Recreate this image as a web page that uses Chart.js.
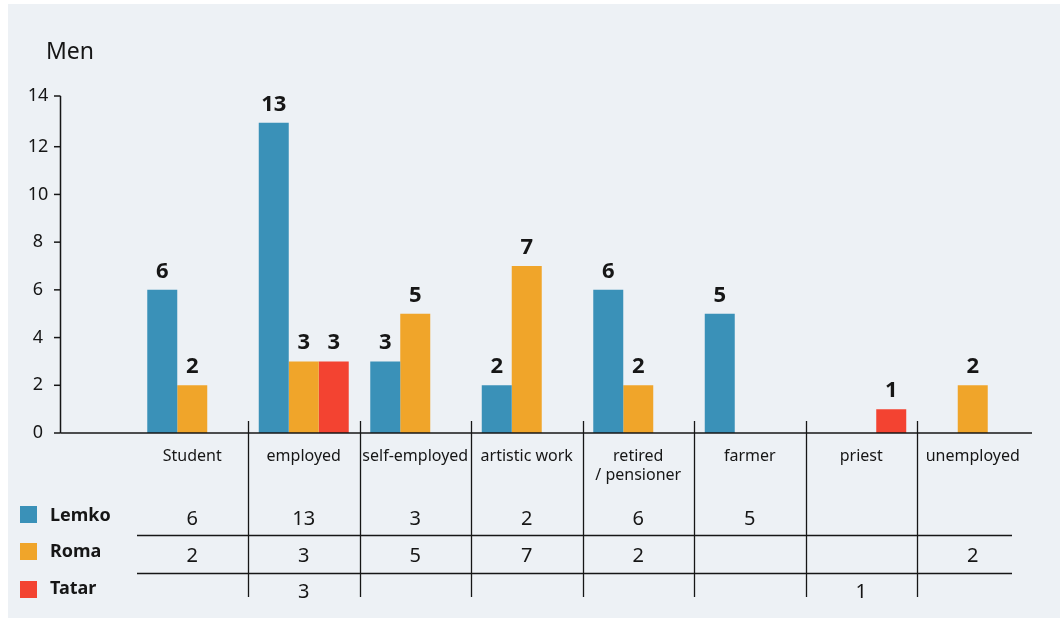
<!DOCTYPE html>
<html>
<head>
<meta charset="utf-8">
<script src="https://cdn.jsdelivr.net/npm/chart.js@4.4.1/dist/chart.umd.min.js"></script>
<style>
  html, body { margin: 0; padding: 0; background: #ffffff; }
  canvas { display: block; }
</style>
</head>
<body>
<canvas id="menChart" width="1060" height="618"></canvas>
<script>
// occupations (x categories) and counts per group
const categories = ['Student', 'employed', 'self-employed', 'artistic work', ['retired', '/ pensioner'], 'farmer', 'priest', 'unemployed'];
const lemkoValues = [6, 13, 3, 2, 6, 5, null, null];
const romaValues = [2, 3, 5, 7, 2, null, null, 2];
const tatarValues = [null, 3, null, null, null, null, 1, null];
const groupNames = ['Lemko', 'Roma', 'Tatar'];
const groupColors = ['#3a91b8', '#f0a52a', '#f34331'];
const yTicks = [0, 2, 4, 6, 8, 10, 12, 14];
const chartTitle = 'Men';

const FONT = '"Noto Sans", sans-serif';
const INK = '#161616';

// Everything that isn't a bar: panel, axes, value labels, the table under the chart
const decorPlugin = {
    id: 'decor',
    beforeDraw(chart) {
        const c = chart.ctx;
        c.save();
        c.fillStyle = '#edf1f5';
        c.fillRect(8, 4, 1052, 614);
        c.restore();
    },
    afterDraw(chart) {
        const c = chart.ctx;
        const xScale = chart.scales.x;
        const yScale = chart.scales.y;
        const y0 = yScale.getPixelForValue(0);
        const axisX = 60.5;

        c.save();
        c.strokeStyle = INK;
        c.fillStyle = INK;

        // title
        c.font = '23px ' + FONT;
        c.textAlign = 'left';
        c.textBaseline = 'alphabetic';
        c.fillText(chartTitle, 46, 59);

        // y axis with ticks
        c.lineWidth = 1.5;
        c.beginPath();
        c.moveTo(axisX, 96);
        c.lineTo(axisX, y0);
        c.stroke();
        c.font = '18px ' + FONT;
        c.textAlign = 'center';
        c.textBaseline = 'middle';
        yTicks.forEach(function (t) {
            const py = Math.max(96, yScale.getPixelForValue(t) - (t === 14 ? 3 : 0));
            c.beginPath();
            c.moveTo(54, py);
            c.lineTo(axisX, py);
            c.stroke();
            c.fillText(String(t), 38, py);
        });

        // x axis line
        c.beginPath();
        c.moveTo(axisX, y0);
        c.lineTo(1032, y0);
        c.stroke();

        // value labels above bars
        c.font = 'bold 22px ' + FONT;
        c.textAlign = 'center';
        c.textBaseline = 'alphabetic';
        chart.data.datasets.forEach(function (ds, di) {
            const meta = chart.getDatasetMeta(di);
            meta.data.forEach(function (bar, i) {
                const v = ds.data[i];
                if (v === null || v === undefined) return;
                c.fillText(String(v), bar.x, bar.y - 12);
            });
        });

        // category labels
        c.font = '16px ' + FONT;
        categories.forEach(function (label, i) {
            const px = xScale.getPixelForValue(i);
            const lines = Array.isArray(label) ? label : [label];
            lines.forEach(function (line, li) {
                c.fillText(line, px, 461 + li * 19);
            });
        });

        // table grid
        const step = xScale.getPixelForValue(1) - xScale.getPixelForValue(0);
        c.lineWidth = 1.3;
        for (let i = 1; i < categories.length; i++) {
            const px = Math.round(xScale.getPixelForValue(i) - step / 2) + 0.5;
            c.beginPath();
            c.moveTo(px, 421);
            c.lineTo(px, 597);
            c.stroke();
        }
        [535.5, 573.5].forEach(function (py) {
            c.beginPath();
            c.moveTo(137, py);
            c.lineTo(1012, py);
            c.stroke();
        });

        // legend column and table values
        const rowBaselines = [525, 562, 598];
        const legendBaselines = [521, 557, 594];
        const squareTops = [506, 543, 581];
        chart.data.datasets.forEach(function (ds, di) {
            c.fillStyle = groupColors[di];
            c.fillRect(20, squareTops[di], 17, 17);
            c.fillStyle = INK;
            c.font = 'bold 18px ' + FONT;
            c.textAlign = 'left';
            c.fillText(ds.label, 50, legendBaselines[di]);
            c.font = '20px ' + FONT;
            c.textAlign = 'center';
            ds.data.forEach(function (v, i) {
                if (v === null || v === undefined) return;
                c.fillText(String(v), xScale.getPixelForValue(i), rowBaselines[di]);
            });
        });
        c.restore();
    }
};

const seriesValues = [lemkoValues, romaValues, tatarValues];

new Chart(document.getElementById('menChart'), {
    type: 'bar',
    data: {
        labels: categories,
        datasets: seriesValues.map(function (vals, i) {
            return {
                label: groupNames[i],
                data: vals,
                backgroundColor: groupColors[i],
                borderWidth: 0,
                barPercentage: 1,
                categoryPercentage: 0.807
            };
        })
    },
    options: {
        responsive: false,
        animation: false,
        devicePixelRatio: 1,
        layout: {
            padding: { left: 136.5, right: 31.5, top: 99, bottom: 185 }
        },
        scales: {
            x: { display: false },
            y: { display: false, min: 0, max: 14 }
        },
        plugins: {
            legend: { display: false },
            tooltip: { enabled: false }
        }
    },
    plugins: [decorPlugin]
});
</script>
</body>
</html>
